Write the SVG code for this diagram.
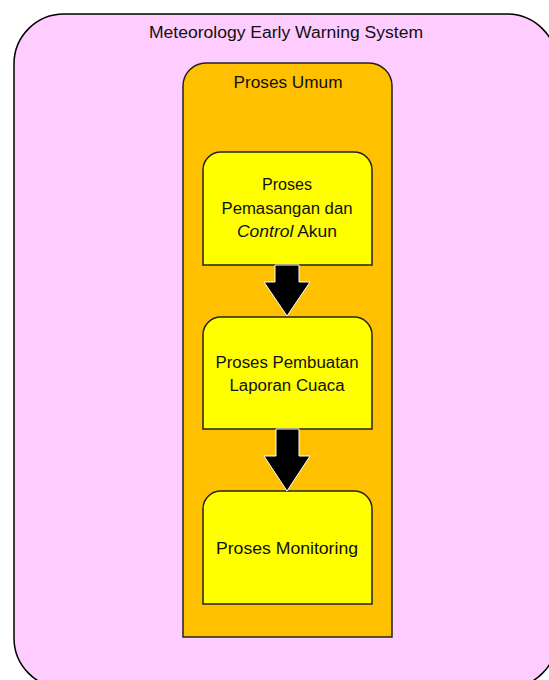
<svg xmlns="http://www.w3.org/2000/svg" width="549" height="680" viewBox="0 0 549 680">
  <style>
    .lbl { font-family: "Liberation Sans", Arial, sans-serif; font-size: 16px; fill: #111; text-anchor: middle; }
    .box { stroke: #222; stroke-width: 1.5; }
    .arrow { fill: #000; stroke: #fff; stroke-width: 1; }
  </style>
  <rect width="549" height="680" fill="#fff"/>

  <g id="system">
    <rect x="14" y="14" width="543" height="674" rx="50" ry="50" fill="#ffccff" stroke="#000" stroke-width="1.5"/>
    <text class="lbl" x="286" y="38" textLength="274" lengthAdjust="spacingAndGlyphs">Meteorology Early Warning System</text>
  </g>

  <g id="proses-umum">
    <path class="box" fill="#ffc000" d="M183,637 V86 A23,23 0 0 1 206,63 H369 A23,23 0 0 1 392,86 V637 Z"/>
    <text class="lbl" x="288" y="88" textLength="109" lengthAdjust="spacingAndGlyphs">Proses Umum</text>
  </g>

  <g id="pemasangan">
    <path class="box" fill="#ffff00" d="M203,265 V170 A18,18 0 0 1 221,152 H354 A18,18 0 0 1 372,170 V265 Z"/>
    <text class="lbl" x="287" y="190" textLength="50" lengthAdjust="spacingAndGlyphs">Proses</text>
    <text class="lbl" x="287" y="214" textLength="131" lengthAdjust="spacingAndGlyphs">Pemasangan dan</text>
    <text class="lbl" x="287" y="237" textLength="100" lengthAdjust="spacingAndGlyphs"><tspan font-style="italic">Control</tspan> Akun</text>
  </g>

  <g id="pembuatan-laporan">
    <path class="box" fill="#ffff00" d="M203,429 V335 A18,18 0 0 1 221,317 H354 A18,18 0 0 1 372,335 V429 Z"/>
    <text class="lbl" x="287" y="368" textLength="143" lengthAdjust="spacingAndGlyphs">Proses Pembuatan</text>
    <text class="lbl" x="287" y="391" textLength="115" lengthAdjust="spacingAndGlyphs">Laporan Cuaca</text>
  </g>

  <g id="monitoring">
    <path class="box" fill="#ffff00" d="M203,604 V509 A18,18 0 0 1 221,491 H354 A18,18 0 0 1 372,509 V604 Z"/>
    <text class="lbl" x="287" y="554" textLength="142" lengthAdjust="spacingAndGlyphs">Proses Monitoring</text>
  </g>

  <g id="connectors">
    <polygon class="arrow" points="275,265 299,265 299,282 310,282 287,316 264,282 275,282"/>
    <polygon class="arrow" points="276,429 299,429 299,456 310,456 287,491 264,456 276,456"/>
  </g>
</svg>
